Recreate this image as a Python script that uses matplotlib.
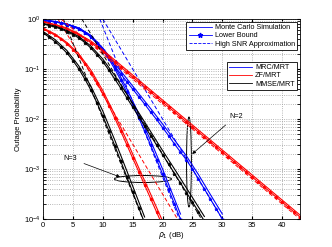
import numpy as np
import matplotlib.pyplot as plt
from matplotlib.patches import Ellipse
from matplotlib.lines import Line2D

plt.rcParams['font.family'] = ['Liberation Sans', 'DejaVu Sans']

# ---------------------------------------------------------------
# data: log10 of the outage probability
# lower bounds every 1 dB (markers), simulations every 2 dB
# ---------------------------------------------------------------
# N = 3
x_lb_mmse3 = list(range(0, 18))
lb_mmse3 = [-0.28, -0.36, -0.45, -0.56, -0.68, -0.83, -1.0, -1.2, -1.42, -1.67, -1.94,
            -2.23, -2.53, -2.84, -3.15, -3.46, -3.77, -4.08]
x_sim_mmse3 = [0, 2, 4, 6, 8, 10, 12, 14, 16, 17]
sim_mmse3 = [-0.25, -0.41, -0.63, -0.94, -1.34, -1.84, -2.42, -3.03, -3.65, -3.96]

x_lb_zf3 = list(range(0, 21))
lb_zf3 = [-0.2, -0.26, -0.32, -0.4, -0.5, -0.61, -0.74, -0.9, -1.07, -1.27, -1.49,
          -1.73, -1.98, -2.24, -2.51, -2.78, -3.05, -3.32, -3.59, -3.86, -4.13]
x_sim_zf3 = [0, 2, 4, 6, 8, 10, 12, 14, 16, 18, 20]
sim_zf3 = [-0.18, -0.3, -0.47, -0.7, -1.02, -1.43, -1.91, -2.43, -2.97, -3.5, -4.04]

x_lb_mrc3 = list(range(0, 24))
lb_mrc3 = [-0.03, -0.04, -0.06, -0.08, -0.11, -0.15, -0.2, -0.27, -0.36, -0.48, -0.63,
           -0.8, -1.0, -1.22, -1.46, -1.71, -1.97, -2.24, -2.52, -2.81, -3.1, -3.4,
           -3.7, -4.0]
x_sim_mrc3 = [0, 2, 4, 6, 8, 10, 12, 14, 16, 18, 20, 22, 23]
sim_mrc3 = [-0.02, -0.05, -0.1, -0.18, -0.33, -0.59, -0.94, -1.39, -1.89, -2.43, -3.0,
            -3.6, -3.9]

# N = 2
x_lb_mmse2 = list(range(0, 28))
lb_mmse2 = [-0.1, -0.13, -0.16, -0.2, -0.25, -0.31, -0.38, -0.47, -0.58, -0.71, -0.85,
            -1.02, -1.2, -1.38, -1.57, -1.76, -1.95, -2.14, -2.33, -2.52, -2.71, -2.9,
            -3.09, -3.28, -3.47, -3.66, -3.85, -4.04]
x_sim_mmse2 = [0, 2, 4, 6, 8, 10, 12, 14, 16, 18, 20, 22, 24, 26, 27]
sim_mmse2 = [-0.09, -0.14, -0.23, -0.35, -0.54, -0.8, -1.13, -1.5, -1.87, -2.25, -2.63,
             -3.0, -3.38, -3.76, -3.95]

x_lb_zf2 = list(range(0, 44))
lb_zf2 = [-0.06, -0.09, -0.12, -0.16, -0.2, -0.26, -0.32, -0.39, -0.47, -0.56, -0.65,
          -0.75, -0.86, -0.96, -1.06, -1.16, -1.26, -1.36, -1.46, -1.56, -1.66, -1.76,
          -1.86, -1.96, -2.06, -2.16, -2.26, -2.36, -2.46, -2.56, -2.66, -2.76, -2.86,
          -2.96, -3.06, -3.16, -3.26, -3.36, -3.46, -3.56, -3.66, -3.76, -3.86, -3.96]
x_sim_zf2 = [0, 2, 4, 6, 8, 10, 12, 14, 16, 18, 20, 22, 24, 26, 28, 30, 32, 34, 36, 38,
             40, 42, 43]
sim_zf2 = [-0.05, -0.11, -0.18, -0.3, -0.44, -0.62, -0.82, -1.02, -1.22, -1.42, -1.62,
           -1.82, -2.02, -2.22, -2.42, -2.62, -2.82, -3.02, -3.22, -3.42, -3.62, -3.82,
           -3.92]

x_lb_mrc2 = list(range(0, 31))
lb_mrc2 = [-0.03, -0.04, -0.06, -0.08, -0.11, -0.15, -0.2, -0.27, -0.36, -0.48, -0.62,
           -0.78, -0.94, -1.1, -1.25, -1.4, -1.55, -1.7, -1.86, -2.01, -2.17, -2.33,
           -2.5, -2.66, -2.82, -3.0, -3.2, -3.4, -3.6, -3.8, -4.0]
x_sim_mrc2 = [0, 2, 4, 6, 8, 10, 12, 14, 16, 18, 20, 22, 24, 26, 28, 30]
sim_mrc2 = [-0.02, -0.05, -0.1, -0.18, -0.33, -0.58, -0.89, -1.19, -1.49, -1.79, -2.1,
            -2.42, -2.74, -3.11, -3.51, -3.9]

# high SNR approximations: straight lines from log10 P = 0 down to -4
x_app_mmse3 = [3.4, 16.7]
x_app_zf3 = [2.5, 22.5]
x_app_mrc3 = [9.5, 22.8]
x_app_mmse2 = [6.5, 26.5]
x_app_zf2 = [3.0, 43.0]
x_app_mrc2 = [10.0, 30.0]
y_app = [0.0, -4.0]

blue = (0, 0, 1)
red = (1, 0, 0)
black = (0, 0, 0)

fig = plt.figure(figsize=(3.32, 2.47), dpi=100)
ax = fig.add_axes([43 / 332, 1 - 219 / 247, 257 / 332, 200 / 247])

curves = [
    (x_lb_mrc3, lb_mrc3, x_sim_mrc3, sim_mrc3, x_app_mrc3, blue),
    (x_lb_zf3, lb_zf3, x_sim_zf3, sim_zf3, x_app_zf3, red),
    (x_lb_mmse3, lb_mmse3, x_sim_mmse3, sim_mmse3, x_app_mmse3, black),
    (x_lb_mrc2, lb_mrc2, x_sim_mrc2, sim_mrc2, x_app_mrc2, blue),
    (x_lb_zf2, lb_zf2, x_sim_zf2, sim_zf2, x_app_zf2, red),
    (x_lb_mmse2, lb_mmse2, x_sim_mmse2, sim_mmse2, x_app_mmse2, black),
]
for xl, lb, xs, sim, xa, c in curves:
    ax.semilogy(xs, 10.0 ** np.array(sim), '-', color=c, lw=0.8)
    ax.semilogy(xl, 10.0 ** np.array(lb), '-*', color=c, lw=0.8, ms=2.6, mew=0.5)
    ax.semilogy(xa, 10.0 ** np.array(y_app), '--', color=c, lw=0.7, dashes=(4, 2.5))

ax.set_xlim(0, 43)
ax.set_ylim(1e-4, 1)
ax.set_xticks([0, 5, 10, 15, 20, 25, 30, 35, 40])
ax.grid(True, which='major', ls=':', color='#a0a0a0', lw=0.6)
ax.grid(True, which='minor', axis='y', ls=':', color='#a0a0a0', lw=0.6)
ax.tick_params(labelsize=5.5, direction='in', length=2, which='both', top=True, right=True,
               pad=2)
for s in ax.spines.values():
    s.set_linewidth(0.6)
ax.set_xlabel(r'$\rho_1$ (dB)', fontsize=5.5, labelpad=1)
ax.set_ylabel('Outage Probability', fontsize=5.5, labelpad=1)

# legends
h1 = [Line2D([], [], color=blue, lw=0.6),
      Line2D([], [], color=blue, lw=0.6, marker='*', ms=3.5),
      Line2D([], [], color=blue, lw=0.6, ls='--')]
leg1 = ax.legend(h1, ['Monte Carlo Simulation', 'Lower Bound', 'High SNR Approximation'],
                 loc='upper right', bbox_to_anchor=(0.988, 0.985), fontsize=5.2,
                 fancybox=False, edgecolor='black', framealpha=1, handlelength=3.2,
                 borderpad=0.3, labelspacing=0.15, handletextpad=0.4, borderaxespad=0)
leg1.get_frame().set_linewidth(0.6)
ax.add_artist(leg1)
h2 = [Line2D([], [], color=blue, lw=0.6),
      Line2D([], [], color=red, lw=0.6),
      Line2D([], [], color=black, lw=0.6)]
leg2 = ax.legend(h2, ['MRC/MRT', 'ZF/MRT', 'MMSE/MRT'],
                 loc='upper right', bbox_to_anchor=(0.988, 0.785), fontsize=5.2,
                 fancybox=False, edgecolor='black', framealpha=1, handlelength=3.2,
                 borderpad=0.3, labelspacing=0.15, handletextpad=0.4, borderaxespad=0)
leg2.get_frame().set_linewidth(0.6)

# annotations
ax.annotate('N=2', xy=(24.96, 10 ** -2.7), xytext=(32.3, 10 ** -1.94), fontsize=5.2,
            ha='center', va='center',
            arrowprops=dict(arrowstyle='-|>', color='black', lw=0.5, mutation_scale=5,
                            shrinkA=3, shrinkB=0))
ax.annotate('N=3', xy=(12.9, 10 ** -3.16), xytext=(4.6, 10 ** -2.79), fontsize=5.2,
            ha='center', va='center',
            arrowprops=dict(arrowstyle='-|>', color='black', lw=0.5, mutation_scale=5,
                            shrinkA=3, shrinkB=0))
ax.add_patch(Ellipse((0.568, 0.285), 0.019, 0.45, transform=ax.transAxes,
                     fill=False, lw=0.7, color='black'))
ax.add_patch(Ellipse((0.389, 0.2), 0.222, 0.035, transform=ax.transAxes,
                     fill=False, lw=0.7, color='black'))

fig.savefig('out.png', dpi=100)
